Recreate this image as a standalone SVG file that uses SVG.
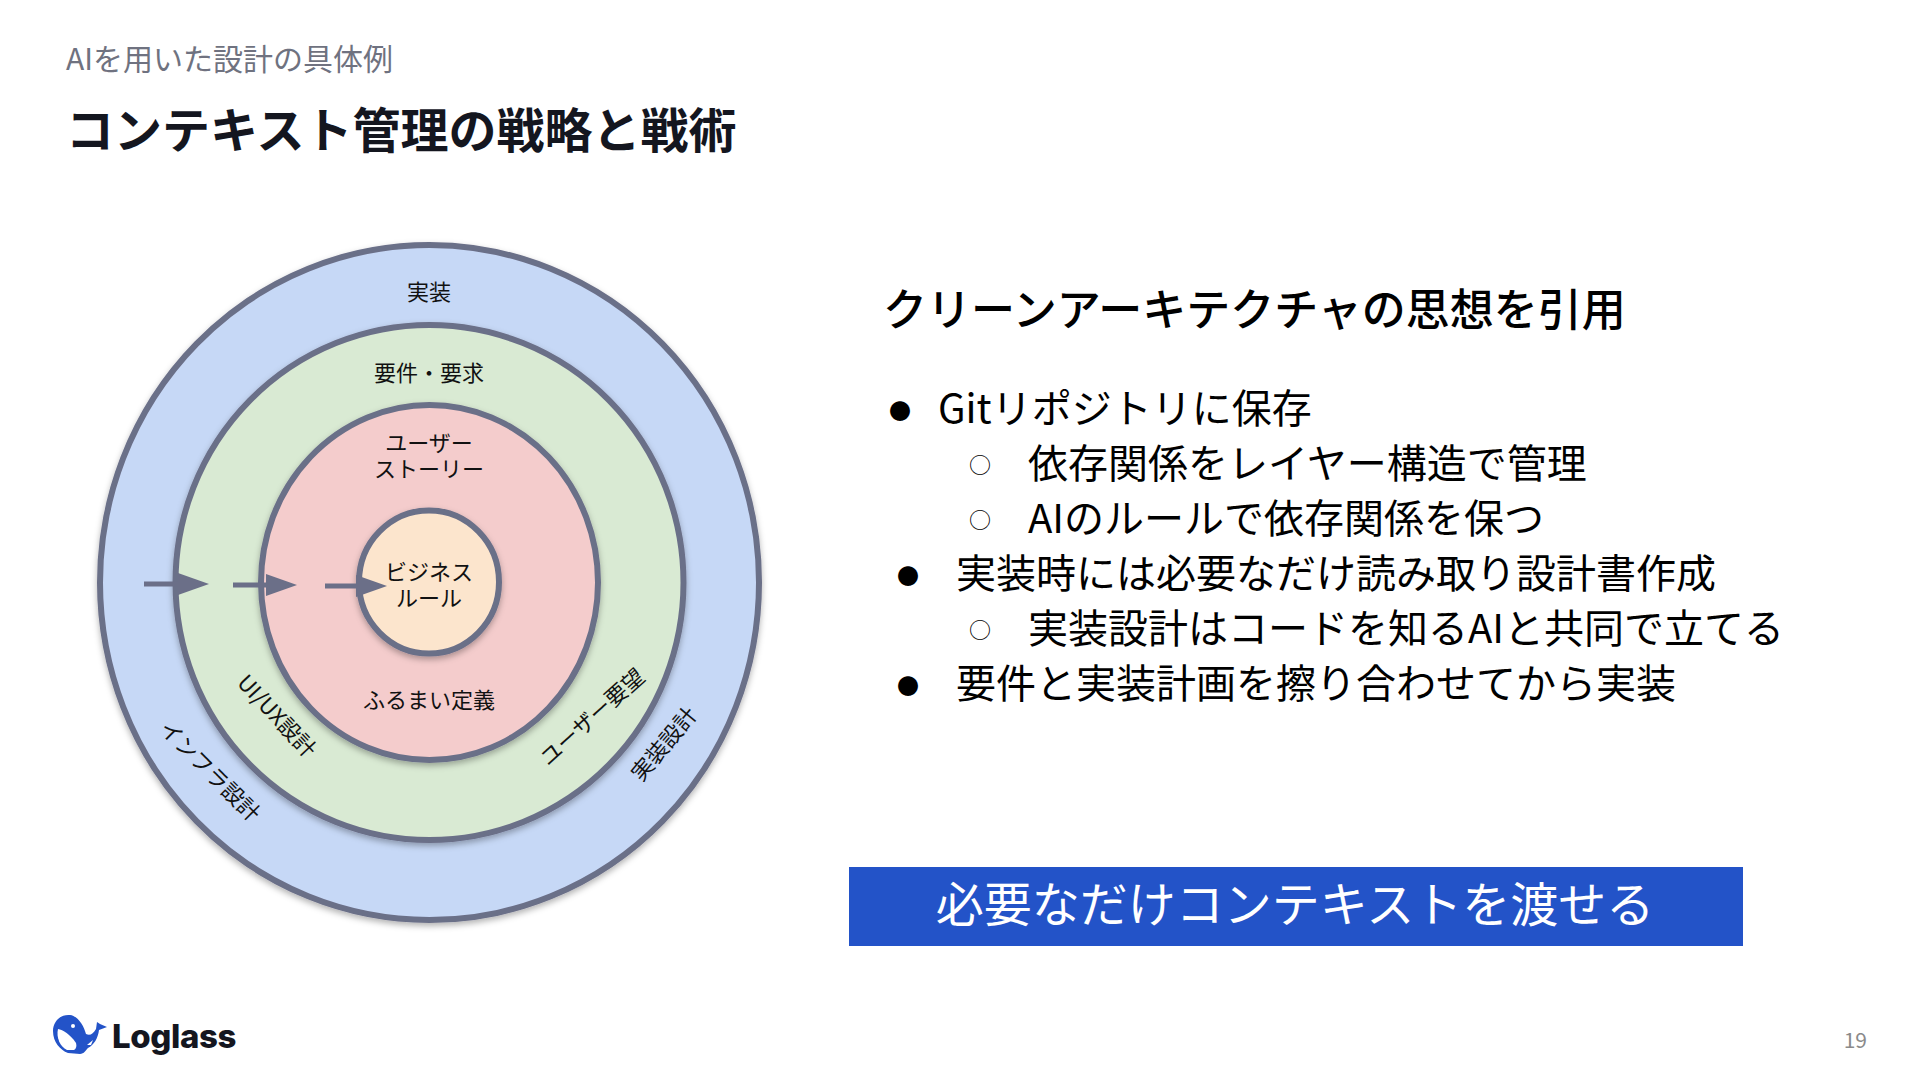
<svg xmlns="http://www.w3.org/2000/svg" width="1920" height="1080" viewBox="0 0 1920 1080">
<defs>
<filter id="sh" x="-10%" y="-10%" width="120%" height="120%"><feDropShadow dx="0" dy="3" stdDeviation="3" flood-color="#000" flood-opacity="0.3"/></filter>
<marker id="ah" markerUnits="userSpaceOnUse" markerWidth="32" markerHeight="22" refX="1" refY="11" orient="auto"><path d="M0 0L31 11L0 22Z" fill="#6b6f88"/></marker>
</defs>
<style>
text{font-family:"Noto Sans CJK JP","Noto Sans",sans-serif;fill:#000}
.ring{stroke:#6b6f88;stroke-width:6;filter:url(#sh)}
.lb{font-size:22px;text-anchor:middle;fill:#111}
.body{font-size:40px}
.bl{font-size:22px;text-anchor:middle}
.conn{stroke:#6b6f88;stroke-width:5;fill:none;marker-end:url(#ah)}
</style>
<rect width="1920" height="1080" fill="#fff"/>
<text id="subtitle" x="66" y="70" font-size="30" style="fill:#6f7280">AIを用いた設計の具体例</text>
<text id="title" x="66" y="148" font-size="48" font-weight="700" style="fill:#14161f">コンテキスト管理の戦略と戦術</text>
<g id="ring-impl"><ellipse class="ring" cx="429.5" cy="582.5" rx="329.5" ry="337.5" fill="#c6d8f6"/>
<text class="lb" x="429" y="300">実装</text>
<text class="lb" transform="translate(210 771) rotate(45)" y="8">インフラ設計</text>
<text class="lb" transform="translate(664 744) rotate(-50)" y="8">実装設計</text></g>
<g id="ring-req"><ellipse class="ring" cx="429.5" cy="582.5" rx="254" ry="257.5" fill="#d9ead3"/>
<text class="lb" x="429" y="381">要件・要求</text>
<text class="lb" transform="translate(277 716) rotate(47)" y="8">UI/UX設計</text>
<text class="lb" transform="translate(592 717) rotate(-42)" y="8">ユーザー要望</text></g>
<g id="ring-story"><ellipse class="ring" cx="429.5" cy="582.5" rx="168.5" ry="177.5" fill="#f4cccc"/>
<text class="lb" x="429" y="451">ユーザー</text>
<text class="lb" x="429" y="477">ストーリー</text>
<text class="lb" x="429" y="708">ふるまい定義</text></g>
<g id="core"><ellipse class="ring" cx="429" cy="582" rx="70" ry="71.5" fill="#fce5cd"/>
<text class="lb" x="429" y="580">ビジネス</text>
<text class="lb" x="429" y="606">ルール</text></g>
<g id="connectors">
<path class="conn" d="M144 584H179"/>
<path class="conn" d="M233 585H267"/>
<path class="conn" d="M325 586H357"/>
</g>
<g id="text-block">
<text x="883" y="326" font-size="44" font-weight="500">クリーンアーキテクチャの思想を引用</text>
<text class="bl" x="900" y="419">●</text><text class="body" x="938" y="423">Gitリポジトリに保存</text>
<text class="bl" x="980" y="473">○</text><text class="body" x="1028" y="478">依存関係をレイヤー構造で管理</text>
<text class="bl" x="980" y="528">○</text><text class="body" x="1028" y="533">AIのルールで依存関係を保つ</text>
<text class="bl" x="908" y="584">●</text><text class="body" x="956" y="588">実装時には必要なだけ読み取り設計書作成</text>
<text class="bl" x="980" y="638">○</text><text class="body" x="1028" y="643">実装設計はコードを知るAIと共同で立てる</text>
<text class="bl" x="908" y="694">●</text><text class="body" x="956" y="698">要件と実装計画を擦り合わせてから実装</text>
</g>
<g id="banner"><rect x="849" y="867" width="894" height="79" fill="#2353c8"/>
<text x="1295" y="922" font-size="48" text-anchor="middle" style="fill:#fff">必要なだけコンテキストを渡せる</text></g>
<g id="logo">
<path d="M70 1015C60 1014 53 1022 53 1031C53 1042 60 1050 68 1053L80 1054C84 1054 86 1050 88 1048C94 1045 98 1038 99 1030L107 1027L100 1024L97 1022L96 1029C93 1034 90 1036 86 1034C84 1026 78 1016 70 1015Z" fill="#2353c8"/>
<path d="M58 1029C63 1030 70 1034 76 1043C77 1046 76 1049 74 1050L67 1050C60 1047 56 1037 58 1029Z" fill="#fff"/>
<path d="M87 1045L93 1040L91 1045Z" fill="#fff"/>
<circle cx="73" cy="1026" r="2" fill="#fff"/>
<text x="112" y="1048" font-size="33" font-weight="800" style="font-family:Inter,sans-serif;fill:#14161f;letter-spacing:-0.4px">Loglass</text>
</g>
<text id="page" x="1867" y="1048" font-size="21" text-anchor="end" style="fill:#8a8a8a">19</text>
</svg>
